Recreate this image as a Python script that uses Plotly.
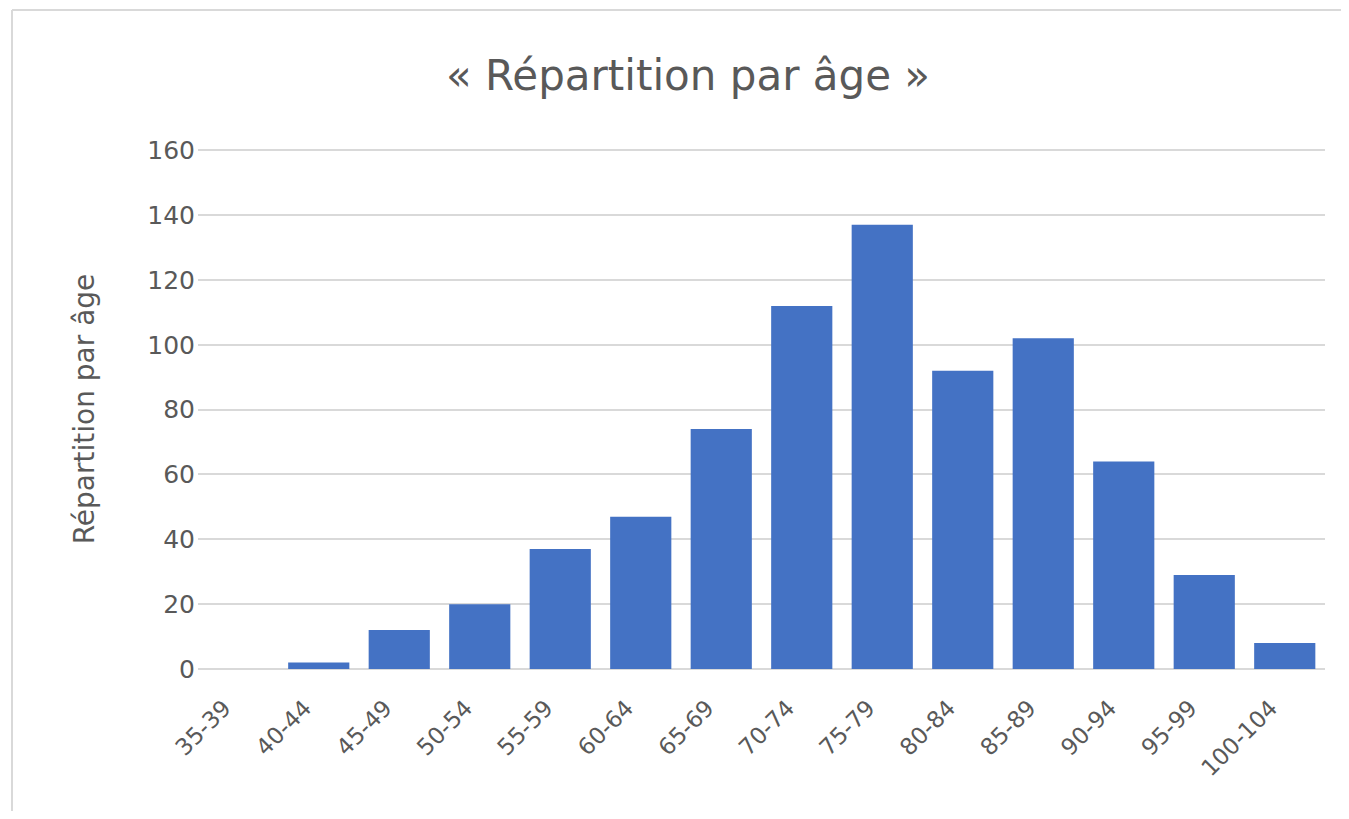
import plotly.graph_objects as go

categories = ["35-39", "40-44", "45-49", "50-54", "55-59", "60-64", "65-69",
              "70-74", "75-79", "80-84", "85-89", "90-94", "95-99", "100-104"]
values = [0, 2, 12, 20, 37, 47, 74, 112, 137, 92, 102, 64, 29, 8]
y_ticks = [0, 20, 40, 60, 80, 100, 120, 140, 160]

OFF = 8  # page body margin offset
W, H = 1349 - 2 * OFF, 819 - 2 * OFF
# target plot area in page pixels: x 198..1325, y 149..669
ml = 198 - OFF
mt = 149 - OFF
pw, ph = 1325 - 198, 669 - 149
mr = W - ml - pw
mb = H - mt - ph

def page_x_to_paper(px):
    return (px - OFF - ml) / pw

def page_y_to_paper(py):
    return (mt + ph - (py - OFF)) / ph

FONT = "DejaVu Sans, Open Sans, sans-serif"
GREY = "#595959"
BORDER = "#d9d9d9"

fig = go.Figure(go.Bar(
    x=categories, y=values,
    marker=dict(color="#4472C4", line=dict(width=0)),
))

fig.update_layout(
    width=W, height=H,
    margin=dict(l=ml, r=mr, t=mt, b=mb),
    paper_bgcolor="white", plot_bgcolor="white",
    bargap=0.24,
    showlegend=False,
    font=dict(family=FONT, color=GREY),
    title=dict(text="« Répartition par âge »", x=(688 - OFF) / W, xanchor="center",
               y=1 - (75 - OFF) / H, yanchor="middle",
               font=dict(size=42, color=GREY, family=FONT)),
    xaxis=dict(tickangle=-45, tickfont=dict(size=23, color=GREY),
               showgrid=False, showline=False, ticks="", zeroline=False,
               ticklabelstandoff=20, ticklabelshift=-14),
    yaxis=dict(range=[0, 160.4], tickvals=y_ticks, tickfont=dict(size=25, color=GREY),
               gridcolor="#d9d9d9", gridwidth=1.5,
               zeroline=True, zerolinecolor="#d9d9d9", zerolinewidth=1.5,
               showline=False, ticks="", ticklabelstandoff=2,
               title=dict(text="Répartition par âge", font=dict(size=28, color=GREY),
                          standoff=44)),
    shapes=[
        dict(type="line", xref="paper", yref="paper",
             x0=page_x_to_paper(12), x1=page_x_to_paper(1349 + 40),
             y0=page_y_to_paper(10), y1=page_y_to_paper(10),
             line=dict(color=BORDER, width=2), layer="below"),
        dict(type="line", xref="paper", yref="paper",
             x0=page_x_to_paper(12), x1=page_x_to_paper(12),
             y0=page_y_to_paper(10), y1=page_y_to_paper(819 + 40),
             line=dict(color=BORDER, width=2), layer="below"),
    ],
)

fig.write_html("out.html")
